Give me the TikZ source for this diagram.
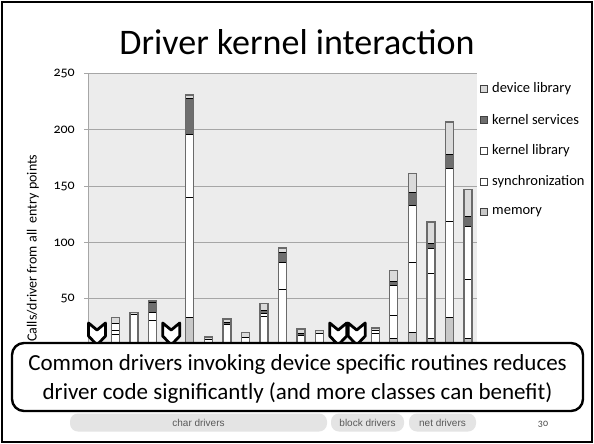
\documentclass[tikz,border=0pt]{standalone}
\usepackage{fontspec}
\setmainfont{Carlito}[Numbers=OldStyle]
\newfontfamily\arialf{Liberation Sans}
\definecolor{plotbg}{HTML}{ECECEC}
\definecolor{gridc}{HTML}{A6A6A6}
\definecolor{memc}{HTML}{C8C8C8}
\definecolor{ksvc}{HTML}{6E6E6E}
\definecolor{dlibc}{HTML}{DADADA}
\definecolor{pillc}{HTML}{E4E4E4}
\definecolor{baroutc}{HTML}{6A6A6A}
\tikzset{
  segline/.style={draw=black, line width=0.9},
  barline/.style={draw=baroutc, line width=1.3},
  chev/.style={draw=black, line width=2.8, fill=white, line join=round},
  legsq/.style={draw=black!75, line width=0.8, minimum size=7, inner sep=0},
  legtxt/.style={anchor=west, inner sep=0, font=\fontsize{14.5}{16}\selectfont},
  pill/.style={fill=pillc, rounded corners=8, minimum height=18, inner sep=0,
    font=\arialf\fontsize{10}{12}\selectfont, text=black!65},
}
\newcommand\stackbar[3]{%
  \foreach \lo/\hi/\col in {#3}{\fill[\col] ({#1-4},{355-1.126*\lo}) rectangle ({#1+4},{355-1.126*\hi});}
  \foreach \lo/\hi/\col in {#3}{\draw[segline] ({#1-4},{355-1.126*\hi}) -- ({#1+4},{355-1.126*\hi});}
  \draw[barline] ({#1-4},355) rectangle ({#1+4},{355-1.126*#2});
}
\begin{document}
\begin{tikzpicture}[x=1pt,y=-1pt,font=\fontsize{14}{16}\selectfont]
\useasboundingbox (0,0) rectangle (594,444);
\fill[white] (0,0) rectangle (594,444);
\draw[line width=1.6] (2,2) rectangle (592,442);

% title
\node (title) at (297,42) {\fontsize{36}{40}\selectfont Driver kernel interaction};

% plot area
\fill[plotbg] (88,73.5) rectangle (477,355);
\foreach \v in {50,100,...,250}{
  \draw[gridc, line width=1] (84,{355-1.126*\v}) -- (477,{355-1.126*\v});
  \node[anchor=east, inner sep=0] (t\v) at (75,{355-1.126*\v}) {\v};
}
\draw[gridc, line width=1] (88,73.5) -- (88,355);

\node[rotate=90, inner sep=0] (ytitle) at (33,248) {Calls/driver from all\ \ entry points};

% bars
\stackbar{115.5}{33}{0/3/memc,3/18/white,18/22/white,22/28/white,28/33/dlibc}
\stackbar{134.1}{38}{0/36/white,36/38/dlibc}
\stackbar{152.6}{48}{0/31/white,31/38/white,38/46.5/ksvc,46.5/48/dlibc}
\stackbar{189.8}{231}{0/33/memc,33/140/white,140/196/white,196/228/ksvc,228/231/dlibc}
\stackbar{208.3}{16}{0/14/white,14/16/dlibc}
\stackbar{226.9}{32}{0/10/white,10/27/white,27/29/ksvc,29/32/dlibc}
\stackbar{245.4}{20}{0/11/ksvc,11/16/white,16/20/dlibc}
\stackbar{264}{46}{0/34/white,34/37/white,37/39.5/ksvc,39.5/46/dlibc}
\stackbar{282.5}{95}{0/58/white,58/82.6/white,82.6/91.5/ksvc,91.5/95/dlibc}
\stackbar{301}{23}{0/17/white,17/19.5/ksvc,19.5/23/dlibc}
\stackbar{319.6}{22}{0/19/white,19/22/dlibc}
\stackbar{375.3}{24}{0/19.5/white,19.5/22/white,22/24/dlibc}
\stackbar{393.8}{75}{0/15/memc,15/35/white,35/62/white,62/65/ksvc,65/75/dlibc}
\stackbar{412.4}{161}{0/20/memc,20/82/white,82/133/white,133/144/ksvc,144/161/dlibc}
\stackbar{431}{118}{0/15/memc,15/72/white,72/95/white,95/99/ksvc,99/118/dlibc}
\stackbar{449.5}{207}{0/33/memc,33/119/white,119/166/white,166/178/ksvc,178/207/dlibc}
\stackbar{468}{147}{0/15/memc,15/67/white,67/114/white,114/123/ksvc,123/147/dlibc}

% chevron marks
\foreach \cx in {97,171.2,338.2,356.7}{
  \draw[chev] (\cx-8.5,323) -- (\cx,330) -- (\cx+8.5,323) -- (\cx+8.5,336) -- (\cx,345) -- (\cx-8.5,336) -- cycle;
}

% legend
\node[legsq, fill=dlibc] (l1) at (484,89) {};
\node[legtxt] (l1t) at (492,89) {device library};
\node[legsq, fill=ksvc] (l2) at (484,119.8) {};
\node[legtxt] (l2t) at (492,119.8) {kernel services};
\node[legsq, fill=white] (l3) at (484,150.6) {};
\node[legtxt] (l3t) at (492,150.6) {kernel library};
\node[legsq, fill=white] (l4) at (484,181.4) {};
\node[legtxt] (l4t) at (492,181.4) {synchronization};
\node[legsq, fill=memc] (l5) at (484,212.2) {};
\node[legtxt] (l5t) at (492,212.2) {memory};

% callout
\node[draw, line width=2.4, rounded corners=12, fill=white, minimum width=571,
  minimum height=68, inner sep=0] (callout) at (297.5,377) {};
\node[align=center, inner sep=0, font=\fontsize{23}{29.5}\selectfont] (msg) at (297.5,379)
  {Common drivers invoking device specific routines reduces\\driver code significantly (and more classes can benefit)};

% bottom pills
\node[pill, minimum width=257] (pchar) at (198.5,422.5) {char drivers};
\node[pill, minimum width=73] (pblock) at (367.5,422.5) {block drivers};
\node[pill, minimum width=67] (pnet) at (442.5,422.5) {net drivers};
\node[text=black!70, font=\fontsize{10}{12}\selectfont] (pgnum) at (543,424) {30};
\end{tikzpicture}
\end{document}
